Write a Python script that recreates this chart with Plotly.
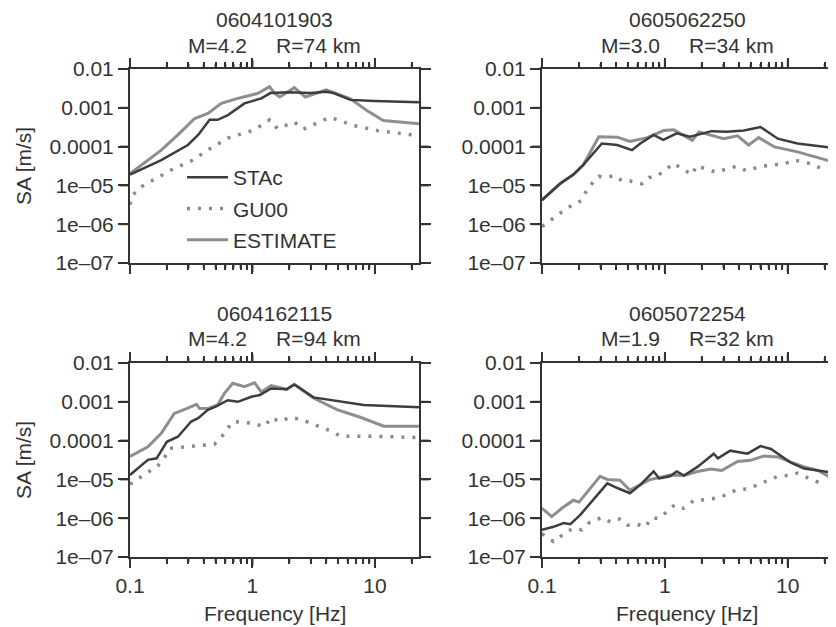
import math
import plotly.graph_objects as go

# ---------------- data ----------------
titles = ["0604101903", "0605062250", "0604162115", "0605072254"]
mags = ["4.2", "3.0", "4.2", "1.9"]
dists = ["74", "34", "94", "32"]

# Panel 1
f_stac_1 = [0.1, 0.18, 0.297, 0.36, 0.447, 0.52, 0.63, 0.86, 1.18, 1.4, 2.0, 3.0, 4.0, 4.6, 6.3, 10, 22.9]
sa_stac_1 = [1.9e-5, 4.5e-5, 1.1e-4, 2.0e-4, 4.9e-4, 4.9e-4, 6.5e-4, 1.3e-3, 1.75e-3, 2.4e-3, 2.5e-3, 2.4e-3, 2.6e-3, 2.4e-3, 1.6e-3, 1.5e-3, 1.4e-3]
f_est_1 = [0.1, 0.124, 0.18, 0.246, 0.337, 0.433, 0.556, 0.76, 1.11, 1.38, 1.52, 1.67, 2.2, 2.7, 3.2, 4.0, 6.3, 8.6, 11.7, 22.9]
sa_est_1 = [2.0e-5, 3.4e-5, 8.1e-5, 2.0e-4, 5.3e-4, 7.2e-4, 1.3e-3, 1.75e-3, 2.36e-3, 3.5e-3, 2.36e-3, 1.9e-3, 3.3e-3, 1.9e-3, 2.3e-3, 2.9e-3, 1.7e-3, 8.5e-4, 4.7e-4, 3.9e-4]
f_gu_1 = [0.1, 0.105, 0.124, 0.217, 0.326, 0.43, 0.63, 1.04, 1.38, 1.6, 2.2, 2.6, 4.3, 6.7, 10.4, 22.9]
sa_gu_1 = [3.2e-6, 5.6e-6, 9.3e-6, 2.5e-5, 4.5e-5, 8.1e-5, 1.66e-4, 2.7e-4, 4.9e-4, 2.9e-4, 4.3e-4, 2.8e-4, 5.7e-4, 3.5e-4, 2.6e-4, 1.9e-4]

# Panel 2
f_stac_2 = [0.1, 0.14, 0.18, 0.217, 0.307, 0.41, 0.54, 0.63, 0.81, 0.97, 1.25, 1.6, 2.4, 3.2, 4.4, 6.0, 8.3, 12, 22.9]
sa_stac_2 = [4.2e-6, 1.1e-5, 1.9e-5, 3.4e-5, 1.2e-4, 1.1e-4, 8.1e-5, 1.2e-4, 2.0e-4, 1.5e-4, 2.2e-4, 1.8e-4, 2.5e-4, 2.4e-4, 2.6e-4, 3.2e-4, 1.6e-4, 1.2e-4, 9.3e-5]
f_est_2 = [0.1, 0.14, 0.18, 0.217, 0.29, 0.41, 0.52, 0.72, 0.98, 1.18, 1.67, 1.9, 3.0, 3.9, 4.8, 5.8, 7.8, 12, 22.9]
sa_est_2 = [4.2e-6, 1.1e-5, 1.9e-5, 3.4e-5, 1.8e-4, 1.75e-4, 1.35e-4, 1.7e-4, 2.6e-4, 2.7e-4, 1.45e-4, 2.4e-4, 1.6e-4, 1.9e-4, 1.1e-4, 1.7e-4, 9.8e-5, 7.3e-5, 4.1e-5]
f_gu_2 = [0.1, 0.124, 0.16, 0.21, 0.23, 0.26, 0.29, 0.33, 0.39, 0.45, 0.52, 0.65, 0.74, 0.86, 1.03, 1.18, 1.4, 1.67, 1.8, 2.6, 3.8, 4.6, 6.1, 9.4, 11.3, 15.5, 20]
sa_gu_2 = [8.7e-7, 1.4e-6, 2.6e-6, 4.1e-6, 7.2e-6, 1.2e-5, 1.7e-5, 1.6e-5, 1.8e-5, 1.3e-5, 1.3e-5, 1.1e-5, 1.6e-5, 1.7e-5, 2.6e-5, 3.7e-5, 2.6e-5, 1.9e-5, 3.2e-5, 2.2e-5, 3.1e-5, 2.4e-5, 3.1e-5, 3.6e-5, 4.5e-5, 3.6e-5, 2.5e-5]

# Panel 3
f_stac_3 = [0.1, 0.14, 0.165, 0.2, 0.246, 0.316, 0.36, 0.43, 0.5, 0.63, 0.76, 0.98, 1.15, 1.42, 1.9, 2.2, 3.15, 4.6, 8.1, 22.9]
sa_stac_3 = [1.3e-5, 3.2e-5, 3.5e-5, 9.3e-5, 1.26e-4, 3.1e-4, 3.8e-4, 6.1e-4, 7.5e-4, 1.1e-3, 1.0e-3, 1.35e-3, 1.5e-3, 2.2e-3, 2.1e-3, 2.8e-3, 1.3e-3, 1.1e-3, 8.3e-4, 7.2e-4]
f_est_3 = [0.1, 0.14, 0.18, 0.23, 0.29, 0.35, 0.37, 0.43, 0.52, 0.59, 0.69, 0.86, 1.04, 1.18, 1.42, 1.9, 2.2, 3.15, 4.9, 7.6, 11.8, 22.9]
sa_est_3 = [3.9e-5, 6.9e-5, 1.55e-4, 5.0e-4, 6.7e-4, 8.6e-4, 6.7e-4, 6.7e-4, 8.3e-4, 1.65e-3, 3.0e-3, 2.45e-3, 3.1e-3, 1.8e-3, 2.6e-3, 2.1e-3, 2.8e-3, 1.25e-3, 6.3e-4, 4.0e-4, 2.35e-4, 2.35e-4]
f_gu_3 = [0.1, 0.124, 0.17, 0.19, 0.21, 0.3, 0.43, 0.49, 0.55, 0.63, 0.69, 0.98, 1.26, 1.42, 1.68, 2.03, 2.5, 3.4, 4.6, 5.2, 8.6, 22.9]
sa_gu_3 = [7.5e-6, 1.2e-5, 2.3e-5, 3.5e-5, 6.3e-5, 7.0e-5, 8.0e-5, 8.1e-5, 1.15e-4, 2.1e-4, 3.1e-4, 2.8e-4, 2.3e-4, 3.9e-4, 3.1e-4, 4.0e-4, 3.5e-4, 2.4e-4, 1.66e-4, 1.3e-4, 1.3e-4, 1.2e-4]

# Panel 4
f_stac_4 = [0.1, 0.124, 0.15, 0.17, 0.204, 0.246, 0.297, 0.34, 0.41, 0.52, 0.63, 0.81, 0.9, 1.1, 1.25, 1.43, 1.84, 2.5, 2.7, 3.4, 4.7, 6.0, 7.3, 10.6, 13.6, 22.9]
sa_stac_4 = [5e-7, 6e-7, 7.5e-7, 7e-7, 1.2e-6, 2.4e-6, 4.8e-6, 7.9e-6, 6e-6, 4.4e-6, 7.2e-6, 1.6e-5, 1.06e-5, 1.2e-5, 1.6e-5, 1.26e-5, 2.1e-5, 4.6e-5, 3.5e-5, 5.5e-5, 4.6e-5, 7.2e-5, 6.1e-5, 2.7e-5, 1.9e-5, 1.5e-5]
f_est_4 = [0.1, 0.12, 0.145, 0.18, 0.2, 0.246, 0.297, 0.34, 0.43, 0.52, 0.63, 0.76, 0.9, 1.1, 1.43, 1.84, 2.36, 2.9, 3.9, 4.98, 6.4, 8.3, 10.6, 13.6, 17.6, 22.9]
sa_est_4 = [1.8e-6, 1.1e-6, 1.8e-6, 2.9e-6, 2.6e-6, 5.9e-6, 1.2e-5, 1.0e-5, 9.5e-6, 5.3e-6, 7.2e-6, 1.0e-5, 1.1e-5, 1.3e-5, 1.26e-5, 1.6e-5, 1.85e-5, 1.7e-5, 2.9e-5, 3.1e-5, 4.0e-5, 3.8e-5, 2.8e-5, 2.1e-5, 1.7e-5, 1.07e-5]
f_gu_4 = [0.1, 0.124, 0.145, 0.16, 0.19, 0.21, 0.246, 0.31, 0.36, 0.43, 0.5, 0.59, 0.7, 0.77, 0.9, 1.07, 1.2, 1.42, 1.73, 2.2, 2.85, 3.9, 4.7, 5.65, 6.9, 8.3, 10, 12, 14.6, 17.6, 20]
sa_gu_4 = [4e-7, 2.5e-7, 3.6e-7, 4.7e-7, 5.5e-7, 5e-7, 8e-7, 1.04e-6, 8e-7, 9.5e-7, 6.6e-7, 7e-7, 6e-7, 1e-6, 1.0e-6, 1.6e-6, 2.2e-6, 1.8e-6, 2.9e-6, 3.0e-6, 3.5e-6, 5.5e-6, 5.7e-6, 7.2e-6, 9.4e-6, 1.2e-5, 1.26e-5, 1.45e-5, 1.1e-5, 8.5e-6, 6.6e-6]

series_names = ["STAc", "GU00", "ESTIMATE"]
y_tickvals = [1e-7, 1e-6, 1e-5, 1e-4, 1e-3, 1e-2]
y_ticktext = ["1e\u201307", "1e\u201306", "1e\u201305", "0.0001", "0.001", "0.01"]
x_tickvals = [0.1, 1, 10]
x_ticktext = ["0.1", "1", "10"]
x_minorvals = [0.2, 0.3, 0.4, 0.5, 0.6, 0.7, 0.8, 0.9, 2, 3, 4, 5, 6, 7, 8, 9, 20]

panels = [
    (f_stac_1, sa_stac_1, f_gu_1, sa_gu_1, f_est_1, sa_est_1),
    (f_stac_2, sa_stac_2, f_gu_2, sa_gu_2, f_est_2, sa_est_2),
    (f_stac_3, sa_stac_3, f_gu_3, sa_gu_3, f_est_3, sa_est_3),
    (f_stac_4, sa_stac_4, f_gu_4, sa_gu_4, f_est_4, sa_est_4),
]

# ---------------- layout geometry (page pixels -> figure fractions) ----------------
W, H = 836, 627
OFF = 8  # page body margin
XR = [-1, 1.36]
YR = [-7, -2]


def px(x):
    return (x - OFF) / W


def py(y):
    return 1 - (y - OFF) / H


xdom = [[px(130), px(419)], [px(542), px(832)]]
ydom = [[py(263), py(69)], [py(557), py(363)]]

TXT = "#333333"
AX = "#333333"
C_STAC = "#3d3d3d"
C_EST = "#8e8e8e"
C_GU = "#8a8a8a"
FONT = "Liberation Sans, Arial, sans-serif"
FS = 21

fig = go.Figure()
for i, (fs, ss, fg, sg, fe, se) in enumerate(panels):
    n = i + 1
    xa = "x" if n == 1 else f"x{n}"
    ya = "y" if n == 1 else f"y{n}"
    show = n == 1
    fig.add_trace(go.Scatter(x=fe, y=se, mode="lines", name=series_names[2], xaxis=xa, yaxis=ya,
                             line=dict(color=C_EST, width=3), showlegend=show, legendrank=3,
                             legendgroup="c"))
    fig.add_trace(go.Scatter(x=fg, y=sg, mode="lines", name=series_names[1], xaxis=xa, yaxis=ya,
                             line=dict(color=C_GU, width=3.5, dash="3px,8px"), showlegend=show,
                             legendrank=2, legendgroup="b"))
    fig.add_trace(go.Scatter(x=fs, y=ss, mode="lines", name=series_names[0], xaxis=xa, yaxis=ya,
                             line=dict(color=C_STAC, width=2.5), showlegend=show, legendrank=1,
                             legendgroup="a"))

layout = dict(
    width=W, height=H,
    margin=dict(l=0, r=0, t=0, b=0),
    paper_bgcolor="white", plot_bgcolor="white",
    font=dict(family=FONT, size=FS, color=TXT),
    showlegend=True,
    legend=dict(x=px(182), y=py(157), xanchor="left", yanchor="top",
                bgcolor="rgba(0,0,0,0)", font=dict(size=FS, color=TXT),
                tracegroupgap=1, traceorder="grouped", itemwidth=41),
)

annotations = []
shapes = []
for i in range(4):
    n = i + 1
    col = i % 2
    row = i // 2
    xk = "xaxis" if n == 1 else f"xaxis{n}"
    yk = "yaxis" if n == 1 else f"yaxis{n}"
    ya_name = "y" if n == 1 else f"y{n}"
    xa_name = "x" if n == 1 else f"x{n}"
    layout[xk] = dict(
        type="log", range=XR, domain=xdom[col], anchor=ya_name,
        showline=True, linecolor=AX, linewidth=2, mirror="allticks",
        ticks="outside", ticklen=9, tickwidth=2, tickcolor=AX,
        tickmode="array", tickvals=x_tickvals, ticktext=x_ticktext,
        showticklabels=(row == 1), showgrid=False, zeroline=False,
        tickfont=dict(size=FS, color=TXT),
        minor=dict(tickmode="array", tickvals=x_minorvals, ticks="outside",
                   ticklen=5, tickwidth=2, tickcolor=AX, showgrid=False),
        automargin=False,
    )
    layout[yk] = dict(
        type="log", range=YR, domain=ydom[row], anchor=xa_name,
        showline=True, linecolor=AX, linewidth=2, mirror="allticks",
        ticks="outside", ticklen=10, tickwidth=2, tickcolor=AX,
        tickmode="array", tickvals=y_tickvals, ticktext=y_ticktext,
        showgrid=False, zeroline=False, tickfont=dict(size=FS, color=TXT),
        automargin=False,
    )

    # explicit tick marks on all four sides (positions derived from the axis scales)
    x0d, x1d = xdom[col]
    y0d, y1d = ydom[row]

    def xpos(v):
        return x0d + (math.log10(v) - XR[0]) / (XR[1] - XR[0]) * (x1d - x0d)

    def ypos(v):
        return y0d + (math.log10(v) - YR[0]) / (YR[1] - YR[0]) * (y1d - y0d)

    for vals, ln in ((x_tickvals, 9), (x_minorvals, 5)):
        for v in vals:
            xp = xpos(v)
            for yb, sgn in ((y0d, -1), (y1d, 1)):
                shapes.append(dict(type="line", xref="paper", yref="paper", x0=xp, x1=xp,
                                   y0=yb, y1=yb + sgn * ln / H,
                                   line=dict(color=AX, width=2), layer="above"))
    for v in y_tickvals:
        yp = ypos(v)
        for xb, sgn in ((x0d, -1), (x1d, 1)):
            shapes.append(dict(type="line", xref="paper", yref="paper", x0=xb,
                               x1=xb + sgn * 10 / W, y0=yp, y1=yp,
                               line=dict(color=AX, width=2), layer="above"))

    cx = (x0d + x1d) / 2
    top_px = 20 if row == 0 else 313
    annotations.append(dict(text=titles[i], x=cx, y=py(top_px), xref="paper", yref="paper",
                            xanchor="center", yanchor="middle", showarrow=False,
                            font=dict(size=FS, color=TXT)))
    annotations.append(dict(text=f"M={mags[i]}" + "\u00a0" * 5 + f"R={dists[i]} km",
                            x=cx, y=py(top_px + 25), xref="paper", yref="paper",
                            xanchor="center", yanchor="middle", showarrow=False,
                            font=dict(size=FS, color=TXT)))
    if row == 1:
        annotations.append(dict(text="Frequency [Hz]", x=cx, y=py(613), xref="paper",
                                yref="paper", xanchor="center", yanchor="middle",
                                showarrow=False, font=dict(size=FS, color=TXT)))
    if col == 0:
        cy = (y0d + y1d) / 2
        annotations.append(dict(text="SA [m/s]", x=px(23), y=cy, xref="paper", yref="paper",
                                xanchor="center", yanchor="middle", textangle=-90,
                                showarrow=False, font=dict(size=FS, color=TXT)))

layout["annotations"] = annotations
layout["shapes"] = shapes
fig.update_layout(**layout)
fig.write_html("out.html")
